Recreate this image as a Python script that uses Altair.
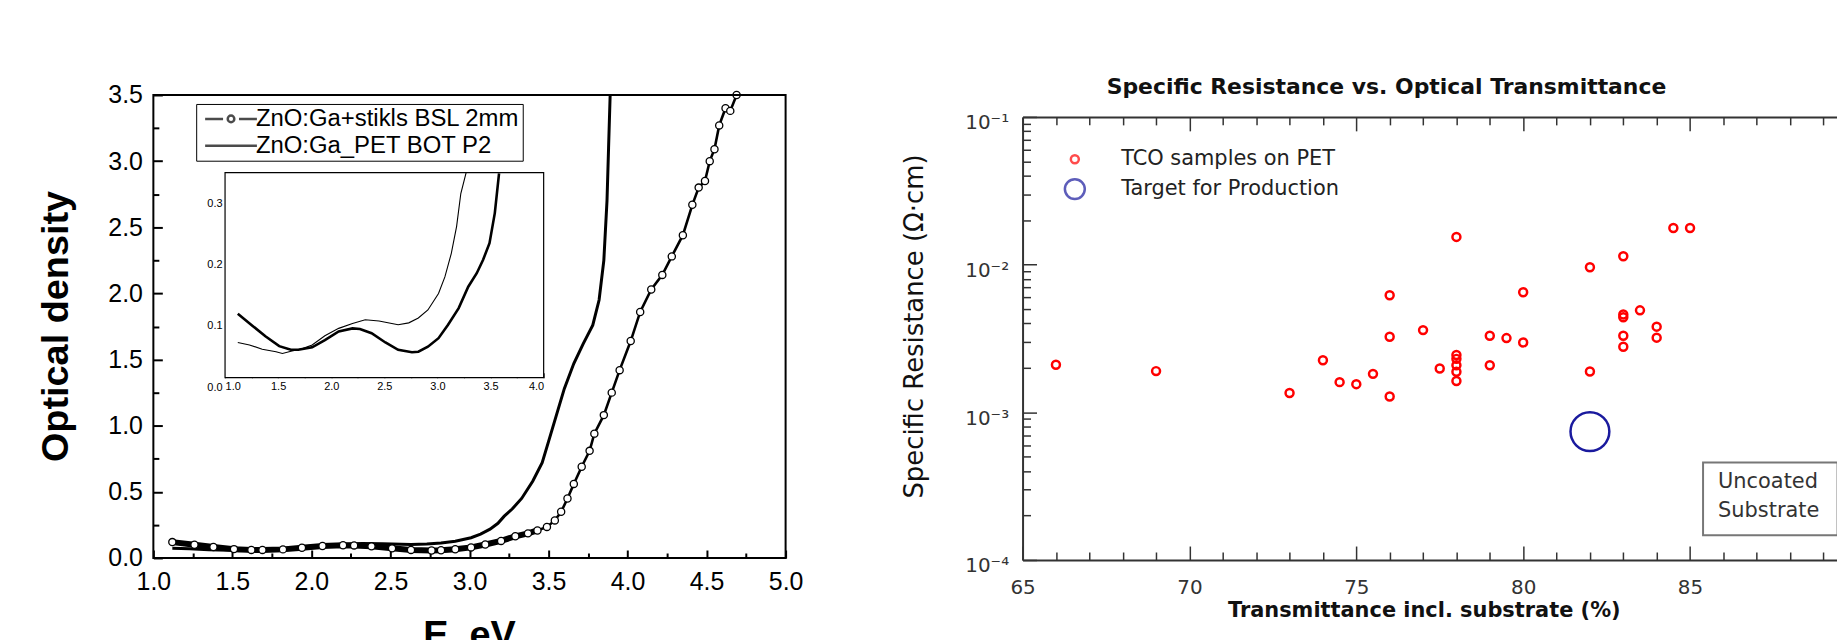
import altair as alt
import pandas as pd

# ---------------- Left panel: optical density vs photon energy ----------------
series_names = ["ZnO:Ga+stikls BSL 2mm", "ZnO:Ga_PET BOT P2"]

glass_E = [1.12, 1.26, 1.38, 1.51, 1.62, 1.69, 1.82, 1.94, 2.07, 2.20, 2.27, 2.38, 2.51,
           2.63, 2.76, 2.82, 2.91, 3.01, 3.10, 3.20, 3.29, 3.37, 3.43, 3.49, 3.54, 3.58,
           3.62, 3.66, 3.71, 3.76, 3.79, 3.85, 3.90, 3.95, 4.02, 4.08, 4.15, 4.22, 4.28,
           4.35, 4.41, 4.45, 4.49, 4.52, 4.55, 4.58, 4.62, 4.65, 4.69]
glass_OD = [0.120, 0.100, 0.083, 0.067, 0.061, 0.061, 0.065, 0.077, 0.091, 0.096, 0.095,
            0.088, 0.073, 0.061, 0.057, 0.058, 0.066, 0.080, 0.102, 0.129, 0.164, 0.186,
            0.208, 0.235, 0.284, 0.349, 0.45, 0.56, 0.69, 0.81, 0.94, 1.08, 1.25, 1.42,
            1.64, 1.86, 2.03, 2.14, 2.28, 2.44, 2.67, 2.80, 2.85, 3.00, 3.09, 3.27, 3.40,
            3.38, 3.50]

pet_E = [1.12, 1.23, 1.35, 1.48, 1.54, 1.63, 1.73, 1.82, 1.94, 2.07, 2.20, 2.32, 2.45,
         2.57, 2.63, 2.73, 2.82, 2.91, 3.01, 3.07, 3.13, 3.18, 3.22, 3.27, 3.33, 3.40,
         3.46, 3.50, 3.55, 3.60, 3.66, 3.72, 3.78, 3.82, 3.85, 3.87, 3.88, 3.89]
pet_OD = [0.073, 0.069, 0.062, 0.058, 0.055, 0.059, 0.063, 0.069, 0.084, 0.096, 0.104,
          0.110, 0.108, 0.104, 0.102, 0.105, 0.113, 0.126, 0.153, 0.180, 0.218, 0.262,
          0.316, 0.37, 0.45, 0.58, 0.72, 0.88, 1.08, 1.28, 1.47, 1.62, 1.76, 1.95, 2.25,
          2.70, 3.10, 3.50]

main_x_major = [1.0, 1.5, 2.0, 2.5, 3.0, 3.5, 4.0, 4.5, 5.0]
main_x_minor = [1.25, 1.75, 2.25, 2.75, 3.25, 3.75, 4.25, 4.75]
main_y_major = [0.0, 0.5, 1.0, 1.5, 2.0, 2.5, 3.0, 3.5]
main_y_minor = [0.25, 0.75, 1.25, 1.75, 2.25, 2.75, 3.25]
inset_x_major = [1.0, 1.5, 2.0, 2.5, 3.0, 3.5, 4.0]
inset_x_minor = [1.25, 1.75, 2.25, 2.75, 3.25, 3.75]
inset_y_labels = [0.0, 0.1, 0.2, 0.3]
inset_y_major = [0.1, 0.2, 0.3]
inset_y_minor = [0.05, 0.15, 0.25]
inset_y_frame = [0.0155, 0.35]

# ---------------- Right panel: resistance vs transmittance ----------------
legend_groups = ["TCO samples on PET", "Target for Production"]
tco_T = [66, 69, 73, 74, 74.5, 75, 75.5, 76, 76, 76, 77, 77.5, 78, 78, 78, 78, 78, 78,
         79, 79, 79.5, 80, 80, 82, 82, 83, 83, 83, 83, 83, 83.5, 84, 84, 84.5, 85]
tco_R = [2.1e-3, 1.9e-3, 1.35e-3, 2.25e-3, 1.6e-3, 1.55e-3, 1.82e-3, 1.28e-3, 3.25e-3,
         6.2e-3, 3.6e-3, 1.98e-3, 1.54e-2, 2.44e-3, 2.3e-3, 2.08e-3, 1.88e-3, 1.63e-3,
         2.08e-3, 3.3e-3, 3.18e-3, 2.97e-3, 6.5e-3, 9.6e-3, 1.89e-3, 1.14e-2, 4.6e-3,
         4.4e-3, 3.3e-3, 2.78e-3, 4.9e-3, 3.8e-3, 3.2e-3, 1.77e-2, 1.77e-2]
target_T = [82.0]
target_R = [7.4e-4]

right_x_major = [65, 70, 75, 80, 85, 90]
right_x_minor = [66, 67, 68, 69, 71, 72, 73, 74, 76, 77, 78, 79, 81, 82, 83, 84, 86, 87, 88, 89]
right_y_major = [1e-4, 1e-3, 1e-2, 1e-1]
right_y_minor = [2e-4, 3e-4, 4e-4, 5e-4, 6e-4, 7e-4, 8e-4, 9e-4,
                 2e-3, 3e-3, 4e-3, 5e-3, 6e-3, 7e-3, 8e-3, 9e-3,
                 2e-2, 3e-2, 4e-2, 5e-2, 6e-2, 7e-2, 8e-2, 9e-2]

annot_lines = ["Uncoated", "Substrate"]
annot_x = [85.84, 85.84]
annot_y = [3.35e-4, 2.14e-4]
annot_box_x = [85.39, 89.42]
annot_box_y = [1.47e-4, 4.57e-4]

# ---------------- layout (pixels inside the svg) ----------------
W, H = 1837, 632
LF = "Liberation Sans"
RF = "DejaVu Sans"

sx_main = alt.Scale(domain=[1, 5], range=[146, 781], nice=False, zero=False)
sy_main = alt.Scale(domain=[0, 3.5], range=[551, 86], nice=False, zero=False)
sx_in = alt.Scale(domain=[1, 4], range=[218, 538], nice=False, zero=False, clamp=True)
sy_in = alt.Scale(domain=[0, 0.35], range=[379.5, 164], nice=False, zero=False, clamp=True)
sx_r = alt.Scale(domain=[65, 90], range=[1019, 1857], nice=False, zero=False)
sy_r = alt.Scale(type="log", domain=[1e-4, 1e-1], range=[553, 108], nice=False)


def axis(orient, offset, values, length, width, color, **kw):
    base = dict(orient=orient, offset=offset, values=values,
                tickSize={"expr": str(-length)}, tickWidth=width, tickColor=color,
                domain=False, grid=False, labels=False, title=None,
                labelFlush=False, labelOverlap=False, labelBound=False)
    base.update(kw)
    return alt.Axis(**base)


ax_main_x = axis("bottom", 551 - H, main_x_major, 8, 2, "black", labels=True, format=".1f",
                 labelFont=LF, labelFontSize=25, labelColor="black", labelPadding=20,
                 title="E, eV", titleFont=LF, titleFontSize=38, titleFontWeight="bold",
                 titleColor="black", titleX=463, titleY=59, titleBaseline="top",
                 titleAlign="center")
ax_main_y = axis("left", -146, main_y_major, 9, 2, "black", labels=True, format=".1f",
                 labelFont=LF, labelFontSize=25, labelColor="black", labelPadding=20,
                 title="Optical density", titleFont=LF, titleFontSize=38,
                 titleFontWeight="bold", titleColor="black", titleAngle=270,
                 titleX=-97, titleY=318, titleBaseline="middle", titleAlign="center")
ax_main_x_minor = axis("bottom", 551 - H, main_x_minor, 5, 2, "black")
ax_main_y_minor = axis("left", -146, main_y_minor, 5.5, 2, "black")

ax_in_x = axis("bottom", 370 - H, inset_x_major, 5, 1, "black", labels=True, format=".1f",
               labelFont=LF, labelFontSize=11, labelColor="black", labelPadding=8,
               labelFlush=True)
ax_in_y = axis("left", -218, inset_y_major, 5, 1, "black")
ax_in_y_labels = axis("left", -218, inset_y_labels, 0, 1, "black", ticks=False,
                      labels=True, format=".1f", labelFont=LF, labelFontSize=11,
                      labelColor="black", labelPadding=3)
ax_in_x_minor = axis("bottom", 370 - H, inset_x_minor, 3, 1, "black")
ax_in_y_minor = axis("left", -218, inset_y_minor, 3, 1, "black")

GR = "#333333"
sup_expr = ("'10' + (datum.value < 0.0005 ? '⁻⁴' : datum.value < 0.005 ? '⁻³' : "
            "datum.value < 0.05 ? '⁻²' : '⁻¹')")
ax_r_x = axis("bottom", 553 - H, right_x_major, 14, 1.5, GR, labels=True, format="d",
              domain=True, domainColor=GR, domainWidth=2,
              labelFont=RF, labelFontSize=20, labelColor=GR, labelPadding=32,
              title="Transmittance incl. substrate  (%)", titleFont=RF, titleFontSize=21,
              titleFontWeight="bold", titleColor="#111111", titleX=1422, titleY=51,
              titleBaseline="middle", titleAlign="center")
ax_r_y = axis("left", -1019, right_y_major, 14, 1.5, GR, labels=True, labelExpr=sup_expr,
              domain=True, domainColor=GR, domainWidth=2, labelOffset=6,
              labelFont=RF, labelFontSize=20, labelColor=GR, labelPadding=28,
              title="Specific Resistance (Ω·cm)", titleFont=RF, titleFontSize=26,
              titleFontWeight="normal", titleColor="#111111", titleAngle=270,
              titleX=-108, titleY=318, titleBaseline="middle", titleAlign="center")
ax_r_x_minor = axis("bottom", 553 - H, right_x_minor, 8, 1.5, GR)
ax_r_y_minor = axis("left", -1019, right_y_minor, 8, 1.5, GR)
ax_r_top = axis("top", -108, right_x_major, 14, 1.5, GR, domain=True, domainColor=GR,
                domainWidth=2,
                title="Specific Resistance vs. Optical Transmittance", titleFont=RF,
                titleFontSize=22, titleFontWeight="bold", titleColor="#111111",
                titleX=1384, titleY=-24, titleBaseline="alphabetic", titleAlign="center")
ax_r_top_minor = axis("top", -108, right_x_minor, 8, 1.5, GR)

# ---------------- data frames ----------------
glass_df = pd.DataFrame({"E": glass_E, "OD": glass_OD})
pet_df = pd.DataFrame({"E": pet_E, "OD": pet_OD})
frame_df = pd.DataFrame({"x0": [main_x_major[0]], "x1": [main_x_major[-1]],
                         "y0": [main_y_major[0]], "y1": [main_y_major[-1]]})
inset_frame_df = pd.DataFrame({"x0": [inset_x_major[0]], "x1": [inset_x_major[-1]],
                               "y0": [inset_y_frame[0]], "y1": [inset_y_frame[1]]})
leg_left_df = pd.DataFrame({"series": series_names})
tco_df = pd.DataFrame({"T": tco_T, "R": tco_R})
target_df = pd.DataFrame({"T": target_T, "R": target_R})
box_df = pd.DataFrame({"x0": [annot_box_x[0]], "x1": [annot_box_x[1]],
                       "y0": [annot_box_y[0]], "y1": [annot_box_y[1]]})
annot_df = pd.DataFrame({"x": annot_x, "y": annot_y, "t": annot_lines})
leg_right_df = pd.DataFrame({"group": legend_groups})

# ---------------- left layers ----------------
pet_main = alt.Chart(pet_df).mark_line(color="black", strokeWidth=3).encode(
    x=alt.X("E:Q", scale=sx_main, axis=ax_main_x),
    y=alt.Y("OD:Q", scale=sy_main, axis=ax_main_y))
glass_band = alt.Chart(glass_df).transform_filter("datum.E <= 3.45").mark_line(
    color="black", strokeWidth=6).encode(
    x=alt.X("E:Q", scale=sx_main, axis=ax_main_x_minor),
    y=alt.Y("OD:Q", scale=sy_main, axis=ax_main_y_minor))
glass_line = alt.Chart(glass_df).mark_line(color="black", strokeWidth=2.6).encode(
    x=alt.X("E:Q", scale=sx_main, axis=None),
    y=alt.Y("OD:Q", scale=sy_main, axis=None))
glass_pts = alt.Chart(glass_df).mark_point(shape="circle", filled=True, fill="white",
                                           stroke="black", strokeWidth=1.3, size=52,
                                           opacity=1).encode(
    x=alt.X("E:Q", scale=sx_main, axis=None),
    y=alt.Y("OD:Q", scale=sy_main, axis=None))
frame = alt.Chart(frame_df).mark_rect(fill=None, stroke="black", strokeWidth=2).encode(
    x=alt.X("x0:Q", scale=sx_main, axis=None), x2="x1:Q",
    y=alt.Y("y0:Q", scale=sy_main, axis=None), y2="y1:Q")

path_circ = ("M-5.2,0L-1.6,0M1.6,0L5.2,0M0.66,0A0.66,0.66,0,1,1,-0.66,0"
             "A0.66,0.66,0,1,1,0.66,0Z")
path_line = "M-5.2,0L5.2,0"
leg_left = alt.Chart(leg_left_df).mark_point(filled=False, color="black",
                                             strokeWidth=2.5).encode(
    x=alt.value(-200), y=alt.value(-200),
    shape=alt.Shape("series:N",
                    scale=alt.Scale(domain=series_names, range=[path_circ, path_line]),
                    legend=alt.Legend(title=None, orient="none", legendX=189, legendY=95,
                                      strokeColor="black", padding=3, symbolSize=100,
                                      symbolStrokeWidth=2.5, symbolStrokeColor="black",
                                      symbolOffset=20, labelOffset=13, rowPadding=3,
                                      labelFont=LF, labelFontSize=24, labelColor="black",
                                      labelLimit=0)))

inset_frame = alt.Chart(inset_frame_df).mark_rect(fill="white", stroke="black",
                                                  strokeWidth=1.2).encode(
    x=alt.X("x0:Q", scale=sx_in, axis=None), x2="x1:Q",
    y=alt.Y("y0:Q", scale=sy_in, axis=ax_in_y_labels), y2="y1:Q")
inset_glass = alt.Chart(glass_df).transform_filter("datum.OD <= 0.4").mark_line(
    color="black", strokeWidth=2.6).encode(
    x=alt.X("E:Q", scale=sx_in, axis=ax_in_x),
    y=alt.Y("OD:Q", scale=sy_in, axis=ax_in_y))
inset_pet = alt.Chart(pet_df).transform_filter("datum.OD <= 0.4").mark_line(
    color="black", strokeWidth=1.1).encode(
    x=alt.X("E:Q", scale=sx_in, axis=ax_in_x_minor),
    y=alt.Y("OD:Q", scale=sy_in, axis=ax_in_y_minor))

# ---------------- right layers ----------------
tco = alt.Chart(tco_df).mark_point(shape="circle", filled=False, color="#ff0000",
                                   strokeWidth=2.5, size=64, opacity=1).encode(
    x=alt.X("T:Q", scale=sx_r, axis=ax_r_x),
    y=alt.Y("R:Q", scale=sy_r, axis=ax_r_y))
target = alt.Chart(target_df).mark_point(shape="circle", filled=False, color="#1a1a9e",
                                         strokeWidth=2.5, size=1521, opacity=1).encode(
    x=alt.X("T:Q", scale=sx_r, axis=ax_r_x_minor),
    y=alt.Y("R:Q", scale=sy_r, axis=ax_r_y_minor))
box = alt.Chart(box_df).mark_rect(fill="white", stroke="#777777", strokeWidth=2).encode(
    x=alt.X("x0:Q", scale=sx_r, axis=ax_r_top), x2="x1:Q",
    y=alt.Y("y0:Q", scale=sy_r, axis=None), y2="y1:Q")
annot = alt.Chart(annot_df).mark_text(align="left", baseline="middle", font=RF,
                                      fontSize=21, color="#333333").encode(
    x=alt.X("x:Q", scale=sx_r, axis=ax_r_top_minor),
    y=alt.Y("y:Q", scale=sy_r, axis=None),
    text="t:N")
leg_r = alt.Legend(title=None, orient="none", legendX=1060, legendY=140, padding=0,
                   symbolOffset=0, labelOffset=35, rowPadding=4, symbolStrokeWidth=2.5,
                   labelFont=RF, labelFontSize=21, labelColor="#222222", labelLimit=0)
leg_right = alt.Chart(leg_right_df).mark_point(shape="circle", filled=False,
                                               strokeWidth=2.5).encode(
    x=alt.value(-200), y=alt.value(-200),
    color=alt.Color("group:N", scale=alt.Scale(domain=legend_groups,
                                               range=["#ff0000", "#1a1a9e"]), legend=leg_r),
    size=alt.Size("group:N", scale=alt.Scale(domain=legend_groups, range=[64, 400]),
                  legend=leg_r))

chart = alt.layer(
    pet_main, glass_band, glass_line, glass_pts, frame, leg_left,
    inset_frame, inset_glass, inset_pet,
    tco, target, box, annot, leg_right,
).resolve_scale(x="independent", y="independent").properties(
    width=W, height=H, padding=0, autosize=alt.AutoSizeParams(type="none"),
    background="white",
).configure_view(strokeWidth=0)

chart.save("out.html", embed_options={"renderer": "svg", "actions": False})
